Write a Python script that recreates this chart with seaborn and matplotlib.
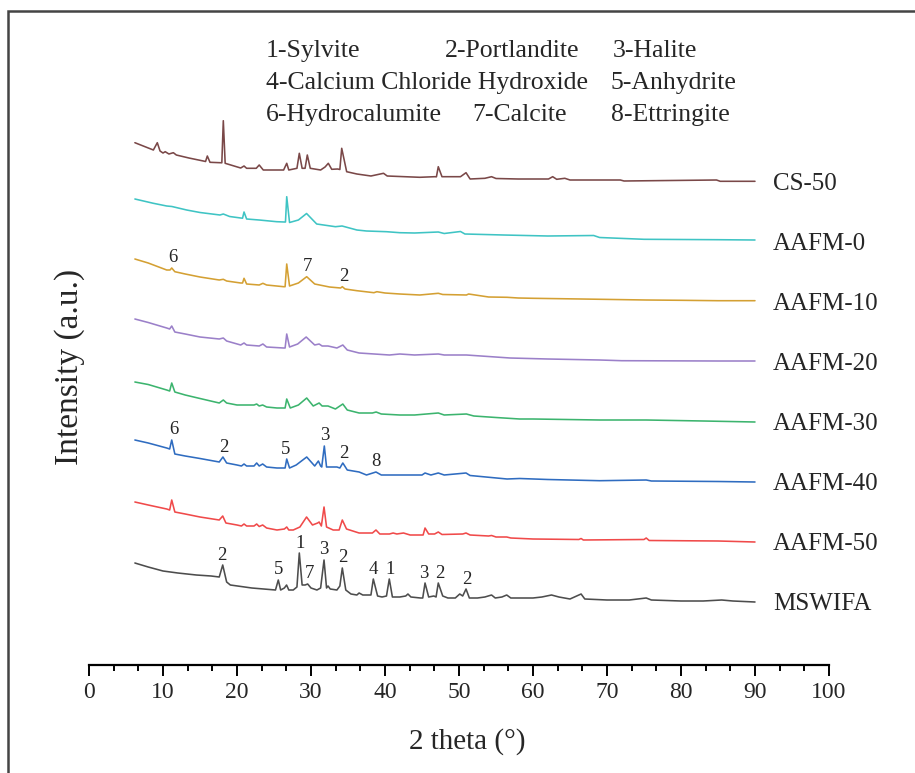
import numpy as np
import pandas as pd
import matplotlib
matplotlib.use("Agg")
import matplotlib.pyplot as plt
from matplotlib.patches import Rectangle
from matplotlib.ticker import MultipleLocator
import seaborn as sns

# ---------------------------------------------------------------------------
# XRD patterns: (2theta [deg], relative intensity [a.u.]) for each sample
# ---------------------------------------------------------------------------
MSWIFA = [(6.2, 39), (8.0, 35), (10.0, 31), (12.0, 29), (14.5, 27), (16.5, 26),
          (17.6, 25), (18.07, 37), (18.6, 20), (19.1, 17), (22.0, 14), (25.2, 12),
          (25.58, 22), (25.9, 12), (26.4, 14), (26.7, 17), (27.0, 12), (27.6, 12),
          (28.1, 15), (28.42, 49), (28.8, 17), (29.2, 17), (29.55, 18), (30.0, 14),
          (30.8, 12), (31.3, 14), (31.76, 42), (32.1, 14), (32.3, 16), (32.6, 13),
          (33.5, 12), (33.9, 16), (34.23, 34), (34.7, 12), (35.4, 8), (36.2, 7),
          (36.5, 9), (37.0, 7), (37.8, 7), (38.1, 7), (38.42, 23), (39.0, 6),
          (39.6, 5), (40.2, 6), (40.58, 23), (41.0, 5), (42.0, 5), (42.8, 6),
          (43.1, 8), (43.5, 5), (44.8, 4), (45.1, 4), (45.41, 19), (45.9, 5),
          (46.6, 6), (46.9, 5), (47.2, 19), (47.8, 6), (48.5, 4), (49.5, 4),
          (50.1, 8), (50.5, 6), (50.95, 13), (51.4, 4), (52.5, 4), (53.5, 5),
          (54.4, 7), (54.9, 4), (55.8, 5), (56.45, 7), (57.0, 4), (58.5, 4),
          (60.0, 4), (61.2, 5), (62.5, 7), (63.5, 5), (65.0, 3), (66.5, 8),
          (67.0, 3), (70.0, 2), (73.0, 2), (75.3, 4), (76.0, 2), (80.0, 1),
          (83.0, 1), (85.5, 2), (87.0, 1), (90.0, 0)]

AAFM_50 = [(6.2, 40), (8.0, 37), (10.5, 33), (10.9, 32), (11.18, 42), (11.6, 30),
           (13.0, 28), (15.0, 25), (17.6, 22), (18.07, 26), (18.5, 19), (20.0, 17),
           (20.6, 16), (20.95, 18), (21.3, 16), (22.3, 16), (22.66, 18), (23.0, 15.5),
           (23.47, 17), (24.0, 14), (25.4, 12), (26.4, 13), (26.72, 15), (27.0, 12),
           (27.6, 12), (27.9, 13), (28.5, 15), (29.4, 25), (30.2, 17), (30.9, 19),
           (31.1, 20), (31.4, 16), (31.76, 35), (32.1, 15), (33.0, 12), (33.8, 12),
           (34.23, 22), (34.8, 13), (36.5, 9), (38.3, 9), (38.78, 12), (39.3, 8),
           (40.6, 8), (41.1, 9), (41.6, 8), (42.5, 9), (43.4, 7), (44.9, 7),
           (45.15, 7), (45.41, 14), (45.9, 8), (46.7, 8), (47.2, 10), (47.7, 7.5),
           (50.5, 8), (50.95, 9), (51.5, 7), (54.0, 6), (54.4, 6.5), (55.0, 5),
           (56.45, 5), (57.0, 4), (60.0, 3), (66.2, 2.5), (66.5, 3.5), (66.8, 2),
           (75.0, 2.5), (75.3, 4), (75.7, 1.5), (85.0, 1), (90.0, 0)]

AAFM_40 = [(6.2, 42), (8.0, 39), (10.5, 34), (10.9, 33), (11.18, 42), (11.6, 28),
           (13.0, 26), (15.0, 23.5), (17.6, 20), (18.1, 25), (18.6, 19), (20.0, 17),
           (20.6, 16), (20.95, 18), (21.3, 16), (22.3, 16), (22.66, 19), (23.0, 16),
           (23.47, 18), (24.0, 15), (25.4, 14), (26.3, 14), (26.5, 14), (26.72, 23),
           (27.1, 14), (28.0, 17), (29.42, 25), (30.5, 16), (31.0, 21), (31.3, 16),
           (31.45, 15), (31.8, 36), (32.1, 15), (33.5, 15), (33.9, 14), (34.3, 19),
           (34.9, 12), (36.5, 10), (37.5, 7), (38.78, 10), (39.5, 7), (42.0, 7),
           (45.0, 7), (45.41, 9), (46.2, 7), (47.2, 9), (48.0, 7), (50.95, 9),
           (51.5, 6.5), (56.5, 3), (58.2, 3.5), (62.0, 2.5), (69.0, 1.3), (75.3, 2),
           (76.0, 1), (85.0, 0.5), (90.0, 0)]

AAFM_30 = [(6.2, 40), (8.0, 37.5), (10.5, 32), (10.9, 31), (11.18, 39), (11.6, 30),
           (13.0, 27), (15.0, 23.5), (17.6, 19), (18.15, 22), (18.6, 19), (20.0, 17),
           (22.3, 17), (22.66, 18), (23.0, 16), (23.47, 17), (24.0, 15), (25.4, 14),
           (26.3, 14), (26.5, 14), (26.72, 23), (27.2, 14), (28.3, 17), (29.42, 24),
           (30.3, 16), (31.1, 19), (31.5, 16), (32.3, 16), (33.3, 13), (34.3, 18),
           (34.9, 12), (36.5, 9), (38.3, 9), (38.8, 10), (39.5, 8), (42.0, 7),
           (44.0, 7), (47.2, 9), (48.0, 7), (51.0, 8), (52.0, 6), (55.0, 4.5),
           (58.2, 3), (60.0, 3), (69.0, 2), (75.3, 2), (83.0, 1), (90.0, 0)]

AAFM_20 = [(6.2, 43), (8.0, 39.5), (10.5, 34), (10.9, 33), (11.18, 36), (11.6, 30),
           (13.0, 28), (15.0, 25), (17.6, 23), (18.15, 24), (18.6, 21), (20.5, 17),
           (20.95, 19), (21.3, 17), (23.0, 16), (23.5, 18), (24.0, 15), (26.3, 14),
           (26.5, 14), (26.72, 28), (27.1, 15), (28.2, 18), (29.35, 25), (30.5, 17),
           (31.1, 18), (31.5, 16), (32.3, 16), (33.5, 14), (34.3, 17), (34.9, 12),
           (36.5, 9), (40.6, 7), (42.0, 8), (44.0, 7), (47.2, 8), (48.0, 7),
           (51.0, 7), (56.9, 4), (62.0, 3), (69.0, 2), (72.0, 1.3), (85.0, 1),
           (90.0, 1)]

AAFM_10 = [(6.2, 43), (8.0, 39), (10.5, 32), (10.95, 32), (11.18, 34), (11.6, 30.3),
           (13.0, 28), (15.0, 25), (17.6, 22), (18.15, 22.7), (18.6, 21), (20.5, 19),
           (20.75, 19), (20.95, 23.7), (21.3, 18), (23.0, 17), (23.5, 18.7), (24.0, 17),
           (26.3, 15.3), (26.5, 15.3), (26.72, 38), (27.1, 16), (28.3, 19),
           (29.42, 25.3), (30.5, 18), (32.5, 15), (34.0, 14), (34.23, 15.3),
           (34.6, 13), (36.2, 11.3), (38.5, 9.3), (38.9, 10.3), (40.0, 9), (42.0, 8),
           (44.7, 7), (47.2, 8.7), (47.8, 7.5), (51.0, 7), (51.3, 8), (54.0, 5),
           (56.5, 4.7), (58.0, 4), (60.0, 3.7), (66.5, 3), (75.3, 2), (80.0, 1.7),
           (85.0, 1.3), (90.0, 1.3)]

AAFM_0 = [(6.2, 43), (8.7, 38.7), (10.5, 36), (11.2, 35.5), (13.2, 32), (15.0, 29.5),
          (17.7, 27), (18.15, 28), (19.0, 25.5), (20.5, 24), (20.75, 23.8),
          (20.95, 30), (21.3, 23), (23.0, 22), (25.36, 20.3), (26.4, 20), (26.55, 20),
          (26.72, 45.3), (27.1, 19.5), (28.3, 22), (29.4, 28.5), (30.77, 18),
          (33.3, 15.3), (34.2, 16), (36.2, 12), (37.5, 11), (40.2, 10.3), (42.0, 9.3),
          (44.0, 9), (47.2, 10), (48.0, 8.5), (50.2, 10.5), (50.8, 8), (56.0, 7),
          (62.0, 6), (68.2, 6.5), (69.0, 4.5), (75.0, 2.7), (80.0, 2.5), (85.0, 2.3),
          (90.0, 2)]

CS_50 = [(6.2, 39.3), (8.7, 32), (9.23, 39.3), (9.6, 31), (10.0, 29), (10.3, 30.3),
         (10.8, 28), (11.4, 29.3), (11.8, 27), (13.5, 24), (15.45, 21), (15.75, 20.5),
         (15.99, 26), (16.35, 19.7), (17.7, 19.3), (17.95, 19.2), (18.15, 61.3),
         (18.4, 18.7), (20.5, 14), (20.95, 16), (21.3, 13.7), (22.6, 13.7), (23.0, 17),
         (23.55, 12), (26.3, 12), (26.72, 18.7), (27.0, 12), (28.1, 13.7),
         (28.42, 28.7), (28.8, 13.7), (29.2, 13.7), (29.5, 27), (29.9, 13.7),
         (31.3, 12), (31.9, 15), (32.34, 18.7), (32.8, 12.7), (33.6, 13), (33.9, 12.5),
         (34.15, 33.7), (34.82, 10.3), (36.2, 8), (38.1, 6), (39.8, 8.7), (40.3, 6),
         (44.7, 4.7), (46.7, 5.3), (46.95, 5.2), (47.2, 15.3), (47.7, 5.3), (50.2, 5.3),
         (50.95, 9.3), (51.5, 3), (53.5, 3.7), (54.4, 5.3), (55.0, 3.5), (58.0, 3),
         (62.1, 3), (62.66, 5.3), (63.2, 2.7), (64.3, 3.7), (65.0, 2), (71.8, 2),
         (72.3, 1), (84.8, 2), (85.3, 0.7), (90.0, 0.7)]

# stacking order, bottom to top
sample_names = ["MSWIFA", "AAFM-50", "AAFM-40", "AAFM-30",
                "AAFM-20", "AAFM-10", "AAFM-0", "CS-50"]
patterns = [MSWIFA, AAFM_50, AAFM_40, AAFM_30, AAFM_20, AAFM_10, AAFM_0, CS_50]
stack_offsets = [63, 123, 183, 243, 303, 363, 423, 483]
line_colors = ["#4d4d4d", "#f04a4a", "#2f6cc0", "#3cb46e",
               "#9b80c9", "#d4a033", "#3fc4c4", "#7a4848"]

# phase key
phases = ["Sylvite", "Portlandite", "Halite", "Calcium Chloride Hydroxide",
          "Anhydrite", "Hydrocalumite", "Calcite", "Ettringite"]

# phase markers: (sample, 2theta of label, phase number)
peak_labels = [
    ("AAFM-10", 11.3, 6), ("AAFM-10", 29.55, 7), ("AAFM-10", 34.45, 2),
    ("AAFM-40", 11.5, 6), ("AAFM-40", 18.25, 2), ("AAFM-40", 26.6, 5),
    ("AAFM-40", 31.8, 3), ("AAFM-40", 34.45, 2), ("AAFM-40", 38.8, 8),
    ("MSWIFA", 18.0, 2), ("MSWIFA", 25.65, 5), ("MSWIFA", 28.5, 1),
    ("MSWIFA", 29.85, 7), ("MSWIFA", 31.75, 3), ("MSWIFA", 34.3, 2),
    ("MSWIFA", 38.4, 4), ("MSWIFA", 40.7, 1), ("MSWIFA", 45.3, 3),
    ("MSWIFA", 47.35, 2), ("MSWIFA", 51.05, 2),
]

# ---------------------------------------------------------------------------
rows = []
for name, pat, off in zip(sample_names, patterns, stack_offsets):
    for tt, inten in pat:
        rows.append({"two_theta": tt, "counts": inten + off, "sample": name})
df = pd.DataFrame(rows)

sns.set_theme(style="ticks")
plt.rcParams["font.family"] = ["Liberation Serif", "DejaVu Serif"]

fig = plt.figure(figsize=(9.15, 7.73), dpi=100)
ax = fig.add_axes([89 / 915, 108 / 773, 740 / 915, 645 / 773])

sns.lineplot(data=df, x="two_theta", y="counts", hue="sample",
             hue_order=sample_names, palette=dict(zip(sample_names, line_colors)),
             estimator=None, sort=False, legend=False, linewidth=1.15, ax=ax)

ax.set_xlim(0, 100)
ax.set_ylim(0, 645)
ax.xaxis.set_major_locator(MultipleLocator(10))
ax.xaxis.set_minor_locator(MultipleLocator(10 / 3))
ax.set_yticks([])
for side in ("left", "top", "right"):
    ax.spines[side].set_visible(False)
ax.spines["bottom"].set_linewidth(1.6)
ax.spines["bottom"].set_color("black")
ax.tick_params(axis="x", which="major", direction="out", length=8, width=1.4,
               labelsize=17, pad=4, color="black", bottom=True)
ax.tick_params(axis="x", which="minor", direction="out", length=4.5, width=1.4,
               color="black", bottom=True)

ax.set_xlabel("2 theta (°)", fontsize=21)
ax.xaxis.set_label_coords(0.511, -0.098)
ax.set_ylabel("Intensity (a.u.)", fontsize=24)
ax.yaxis.set_label_coords(-0.006, 0.462)

# sample names at the right end of each pattern
for name, off in zip(sample_names, stack_offsets):
    ax.text(92.4, off - 1.5, name, fontsize=18, ha="left", va="center",
            clip_on=False)

# phase markers above peaks
lookup = dict(zip(sample_names, zip(patterns, stack_offsets)))
for name, tt, num in peak_labels:
    pat, off = lookup[name]
    arr = np.array(pat)
    near = np.abs(arr[:, 0] - tt) <= 0.5
    top = arr[near, 1].max() + off
    ax.text(tt, top + 10, str(num), fontsize=13.5, ha="center", va="center")

# phase key
key_cols = [23.9, 48.1, 70.8, 23.9, 70.5, 23.9, 51.8, 70.5]
key_rows = [614, 614, 614, 582, 582, 550, 550, 550]
for i, (ph, kx, ky) in enumerate(zip(phases, key_cols, key_rows), start=1):
    ax.text(kx, ky, f"{i}-{ph}", fontsize=18.5, ha="left", va="center")

# thin border around the figure
fig.add_artist(Rectangle((8 / 915, -0.05), 1.2, 1.05 - 11 / 773,
                         transform=fig.transFigure, fill=False,
                         linewidth=1.8, edgecolor="#444444"))

fig.savefig("out.png", dpi=100)
